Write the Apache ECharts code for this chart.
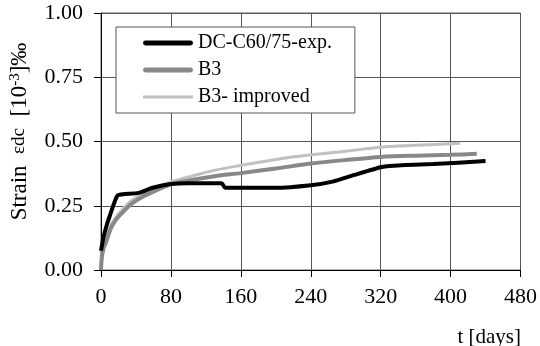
<!DOCTYPE html>
<html><head><meta charset="utf-8">
<script src="https://cdn.jsdelivr.net/npm/echarts@6/dist/echarts.min.js"></script>
<style>html,body{margin:0;padding:0;background:#fff}#c{width:540px;height:346px}</style>
</head><body><div id="c"></div>
<script>
const seriesNames = ['DC-C60/75-exp.', 'B3', 'B3- improved'];
const xTicks = [0, 80, 160, 240, 320, 400, 480];
const yTicks = [0, 0.25, 0.5, 0.75, 1.0];
const expT = [0, 3, 7, 11, 15, 19, 25, 43, 59, 80, 100, 138, 142, 200, 240, 265, 290, 320, 330, 380, 440];
const expV = [0.075, 0.13, 0.18, 0.22, 0.26, 0.29, 0.295, 0.30, 0.32, 0.335, 0.338, 0.338, 0.32, 0.32, 0.33, 0.344, 0.37, 0.40, 0.405, 0.412, 0.424];
const b3T = [0, 1, 3, 6, 11, 17, 23, 34, 45, 57, 80, 100, 130, 160, 200, 240, 280, 320, 360, 400, 430];
const b3V = [0, 0.05, 0.085, 0.11, 0.16, 0.195, 0.218, 0.255, 0.28, 0.3, 0.333, 0.348, 0.365, 0.377, 0.395, 0.414, 0.428, 0.44, 0.445, 0.448, 0.452];
const impT = [0, 1, 3, 6, 11, 17, 23, 34, 45, 57, 80, 100, 130, 160, 200, 240, 280, 320, 360, 411];
const impV = [0, 0.05, 0.09, 0.12, 0.172, 0.205, 0.23, 0.268, 0.292, 0.312, 0.343, 0.362, 0.388, 0.407, 0.43, 0.448, 0.462, 0.478, 0.485, 0.493];

const zip = (a, b) => a.map((v, i) => [v, b[i]]);
const font = 'Liberation Serif';
const chart = echarts.init(document.getElementById('c'));
chart.setOption({
  animation: false,
  backgroundColor: '#fff',
  grid: { left: 100, right: 18, top: 13, bottom: 76, show: true, borderColor: '#666', borderWidth: 1 },
  xAxis: {
    type: 'value', min: xTicks[0], max: xTicks[xTicks.length - 1], interval: 80,
    axisLine: { show: true, onZero: false, lineStyle: { color: '#000', width: 1 } },
    axisTick: { show: true, inside: false, length: 7, lineStyle: { color: '#000' } },
    splitLine: { show: true, lineStyle: { color: '#555', width: 1 } },
    axisLabel: { color: '#000', fontFamily: font, fontSize: 22, margin: 16 }
  },
  yAxis: {
    type: 'value', min: yTicks[0], max: yTicks[yTicks.length - 1], interval: 0.25,
    axisLine: { show: true, onZero: false, lineStyle: { color: '#000', width: 1 } },
    axisTick: { show: true, inside: false, length: 7, lineStyle: { color: '#000' } },
    splitLine: { show: true, lineStyle: { color: '#555', width: 1 } },
    axisLabel: { color: '#000', fontFamily: font, fontSize: 22, margin: 18, formatter: v => v.toFixed(2) },
    name: '{a|Strain  }{b|εdc}{a|  [10}{s|-3}{a|]‰}',
    nameLocation: 'middle', nameRotate: 90, nameGap: 70,
    nameTextStyle: {
      padding: [0, 0, 0, 20],
      rich: {
        a: { fontFamily: font, fontSize: 23, color: '#000' },
        b: { fontFamily: font, fontSize: 19, color: '#000' },
        s: { fontFamily: font, fontSize: 15, color: '#000', verticalAlign: 'top', padding: [0, 0, 8, 0] }
      }
    }
  },
  legend: {
    orient: 'vertical', left: 116, top: 27,
    padding: [6, 23, 6, 27], itemGap: 7, itemWidth: 50, itemHeight: 14,
    backgroundColor: '#fff', borderColor: '#555', borderWidth: 1,
    textStyle: { fontFamily: font, fontSize: 20, color: '#000' },
    itemStyle: { borderWidth: 0 },
    data: [
      { name: seriesNames[0], icon: 'path://M2,0H48A2,2 0 0 1 48,5H2A2,2 0 0 1 2,0Z', itemStyle: { color: '#000' } },
      { name: seriesNames[1], icon: 'path://M2,0H48A2,2 0 0 1 48,5H2A2,2 0 0 1 2,0Z', itemStyle: { color: '#888' } },
      { name: seriesNames[2], icon: 'path://M0,0H50V3H0Z', itemStyle: { color: '#c0c0c0' } }
    ]
  },
  graphic: [{
    type: 'text', right: 19, top: 327,
    style: { text: 't [days]', fontFamily: font, fontSize: 21, fill: '#000' }
  }],
  series: [
    { name: seriesNames[2], type: 'line', data: zip(impT, impV), symbol: 'none', smooth: 0.3, lineStyle: { color: '#c0c0c0', width: 3 }, itemStyle: { color: '#c0c0c0' }, z: 2 },
    { name: seriesNames[1], type: 'line', data: zip(b3T, b3V), symbol: 'none', smooth: 0.3, lineStyle: { color: '#888', width: 4 }, itemStyle: { color: '#888' }, z: 3 },
    { name: seriesNames[0], type: 'line', data: zip(expT, expV), symbol: 'none', smooth: 0.2, lineStyle: { color: '#000', width: 4 }, itemStyle: { color: '#000' }, z: 4 }
  ]
});
</script></body></html>
